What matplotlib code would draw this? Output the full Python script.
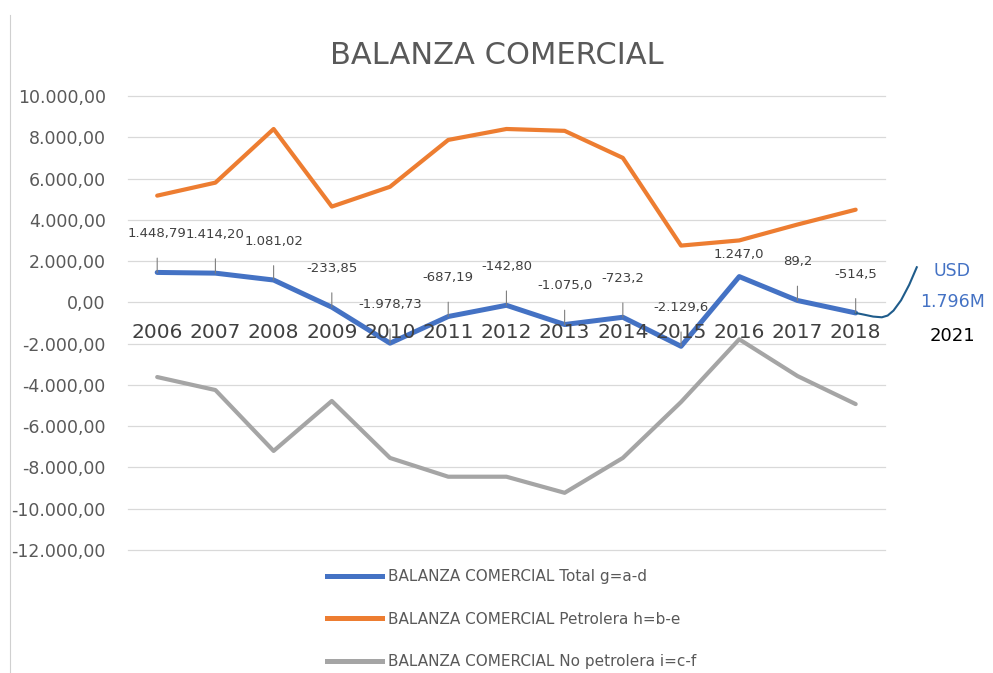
import matplotlib.pyplot as plt
from matplotlib.lines import Line2D

plt.rcParams['font.family'] = ['DejaVu Sans']

# datos
years = ['2006', '2007', '2008', '2009', '2010', '2011', '2012',
         '2013', '2014', '2015', '2016', '2017', '2018']
total = [1448.79, 1414.20, 1081.02, -233.85, -1978.73, -687.19, -142.80,
         -1075.0, -723.2, -2129.6, 1247.0, 89.2, -514.5]
petrolera = [5170, 5800, 8400, 4640, 5600, 7870, 8400,
             8310, 7000, 2750, 3000, 3770, 4490]
no_petrolera = [-3620, -4250, -7200, -4780, -7540, -8450, -8450,
                -9230, -7540, -4830, -1790, -3570, -4930]
total_labels = ['1.448,79', '1.414,20', '1.081,02', '-233,85', '-1.978,73',
                '-687,19', '-142,80', '-1.075,0', '-723,2', '-2.129,6',
                '1.247,0', '89,2', '-514,5']
yticks = list(range(-12000, 10001, 2000))
ytick_labels = ['-12.000,00', '-10.000,00', '-8.000,00', '-6.000,00', '-4.000,00',
                '-2.000,00', '0,00', '2.000,00', '4.000,00', '6.000,00',
                '8.000,00', '10.000,00']
# trazo a mano hacia 2021
curve_x = [12, 12.15, 12.3, 12.45, 12.55, 12.65, 12.78, 12.92, 13.05]
curve_y = [-514.5, -600, -690, -725, -640, -400, 100, 850, 1700]

labels = ['BALANZA COMERCIAL Total g=a-d',
          'BALANZA COMERCIAL Petrolera h=b-e',
          'BALANZA COMERCIAL No petrolera i=c-f']
colors = ['#4472C4', '#ED7D31', '#A5A5A5']

fig = plt.figure(figsize=(9.93, 6.73), dpi=100)
ax = fig.add_axes([0.129, 0.1828, 0.762, 0.6746])

x = range(len(years))
ax.plot(x, total, color=colors[0], lw=3.6, solid_capstyle='round', zorder=4)
ax.plot(x, petrolera, color=colors[1], lw=3.0, solid_capstyle='round', zorder=3)
ax.plot(x, no_petrolera, color=colors[2], lw=3.0, solid_capstyle='round', zorder=3)

ax.set_xlim(-0.5, 12.5)
ax.set_ylim(-12000, 10000)
ax.set_yticks(yticks)
ax.set_yticklabels(ytick_labels, fontsize=12.5, color='#595959')
ax.tick_params(axis='y', length=0, pad=16)
ax.set_xticks([])
for gl in ax.get_yticks():
    ax.axhline(gl, color='#D9D9D9', lw=0.9, zorder=0, clip_on=False)
for s in ax.spines.values():
    s.set_visible(False)

# etiquetas de los años junto al eje 0
for i, yr in enumerate(years):
    ax.annotate(yr, xy=(i, 0), xytext=(0, -22), textcoords='offset points',
                ha='center', va='center', fontsize=14.5, color='#404040', zorder=5)

# etiquetas de datos con lineas guia
for i, (v, t) in enumerate(zip(total, total_labels)):
    if i == 10:
        ax.annotate(t, xy=(i, v), xytext=(0, 16), textcoords='offset points',
                    ha='center', va='center', fontsize=9.5, color='#404040', zorder=6)
    else:
        ax.annotate(t, xy=(i, v), xytext=(0, 28), textcoords='offset points',
                    ha='center', va='center', fontsize=9.5, color='#404040', zorder=6,
                    arrowprops=dict(arrowstyle='-', color='#7F7F7F', lw=0.8,
                                    shrinkA=11, shrinkB=0))

ax.plot(curve_x, curve_y, color='#1F5C8B', lw=1.5, clip_on=False, zorder=5)

fig.text(0.959, 1 - 271 / 673, 'USD', ha='center', va='center', fontsize=12.5, color='#4472C4')
fig.text(0.959, 1 - 302 / 673, '1.796M', ha='center', va='center', fontsize=12.5, color='#4472C4')
fig.text(0.959, 1 - 336 / 673, '2021', ha='center', va='center', fontsize=13, color='black')

fig.text(0.5, 1 - 56 / 673, 'BALANZA COMERCIAL', ha='center', va='center',
         fontsize=22, color='#595959')

handles = [Line2D([0], [0], color=c, lw=3.6) for c in colors]
fig.legend(handles, labels, loc='upper left', bbox_to_anchor=(327 / 993, 1 - 569 / 673),
           frameon=False, fontsize=11, labelcolor='#595959', handlelength=3.6,
           handletextpad=0.4, labelspacing=1.8, borderpad=0, borderaxespad=0)

# borde izquierdo de la captura
fig.add_artist(Line2D([10 / 993, 10 / 993], [0, 1 - 15 / 673], color='#D0D0D0', lw=0.8))

fig.savefig('out.png', dpi=100)
